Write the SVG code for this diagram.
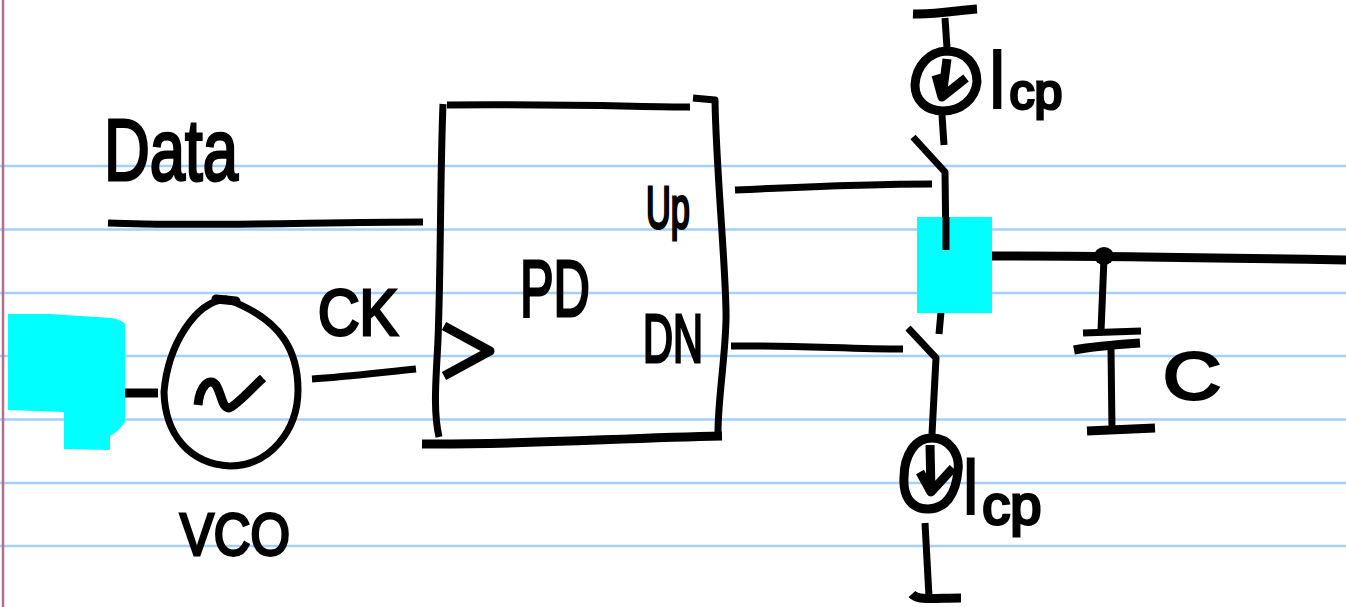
<svg xmlns="http://www.w3.org/2000/svg" width="1346" height="607" viewBox="0 0 1346 607">
<style>
.rule{stroke:#a6cffc;stroke-width:2.500;fill:none}
.ink{stroke:#000;stroke-width:7;fill:none;stroke-linecap:butt;stroke-linejoin:round}
.thick{stroke-width:9}
.fill{fill:#00ffff;stroke:none}
text{font-family:"Liberation Sans",Arial,sans-serif;fill:#000;stroke:#000;stroke-width:3}
.bar{stroke-width:0}
</style>
<rect width="1346" height="607" fill="#fff"/>
<g id="paper">
<path class="rule" d="M0 166H1346M0 229.500H1346M0 293H1346M0 356H1346M0 419.500H1346M0 483H1346M0 546H1346"/>
<path d="M3 0V607" stroke="#b56d8d" stroke-width="2.500" fill="none"/>
</g>
<g id="connectors">
<path class="ink" d="M108 223C200 227 320 222 423 222"/>
<path class="ink thick" d="M125 393H158"/>
<path class="ink" d="M312 379C345 377 385 372 416 369"/>
<path class="ink" d="M735 190C800 187 870 184 932 184"/>
<path class="ink" d="M731 346C790 345 850 349 903 349"/>
<path class="ink thick" d="M992 256C1100 256 1230 258 1346 260"/>
<path class="ink" d="M942 115L944 145"/>
<path class="ink" d="M913 137L945 172L946 250"/>
<path class="ink" d="M941 312L939 334"/>
<path class="ink" d="M908 328L936 358L932 434"/>
<path class="ink" d="M1104 258L1101 331"/>
<path class="ink" d="M1111 349L1112 430"/>
<ellipse cx="1104" cy="256" rx="10" ry="9" fill="#000"/>
</g>
<g id="node-data-label"><text x="104" y="180" font-size="88" textLength="134" lengthAdjust="spacingAndGlyphs">Data</text></g>
<g id="node-vco-block">
<path class="fill" d="M8 314L50 314L112 318Q122 320 125 324V422Q118 432 110 436V450L64 449V412L8 410Z"/>
</g>
<g id="node-vco">
<path class="ink" d="M226 299C195 302 168 345 164 392C165 435 190 464 230 466C270 466 298 430 298 390C298 355 285 320 226 299Z"/>
<path class="ink" style="stroke-width:9;stroke-linecap:round" d="M216 299L236 301"/>
<path class="ink thick" d="M198 405C200 385 210 377 216 385C222 395 222 408 229 408C236 406 250 390 263 378"/>
<text x="180" y="555" font-size="60" textLength="110" lengthAdjust="spacingAndGlyphs">VCO</text>
<text x="318" y="335" font-size="64" textLength="80" lengthAdjust="spacingAndGlyphs">CK</text>
</g>
<g id="node-pd">
<path class="ink" d="M447 105C580 104 640 107 690 107"/>
<path class="ink" d="M693 98L715 100C716 170 727 280 726 320C725 360 718 400 718 432"/>
<path class="ink" d="M443 104C440 180 441 260 438 340C436 380 433 410 439 437"/>
<path class="ink thick" d="M422 444C520 445 620 438 722 436"/>
<path class="ink thick" d="M444 326L490 351L444 376"/>
<text x="520" y="316" font-size="80" textLength="70" lengthAdjust="spacingAndGlyphs">PD</text>
<text x="646" y="228" font-size="60" textLength="44" lengthAdjust="spacingAndGlyphs">Up</text>
<text x="643" y="362" font-size="68" textLength="60" lengthAdjust="spacingAndGlyphs">DN</text>
</g>
<g id="node-top-source">
<path class="ink thick" d="M913 14C935 15 960 10 977 9"/>
<path class="ink" d="M945 18L947 48"/>
<path class="ink thick" d="M946 51C965 51 977 64 977 82C975 100 960 111 943 111C926 111 915 100 915 85C916 65 930 52 946 51Z"/>
<path class="ink thick" d="M947 59L942 97L936 75M942 97L966 78"/>
<text x="985" y="109" font-size="50"><tspan class="bar" font-size="88">I</tspan><tspan>cp</tspan></text>
</g>
<g id="node-bottom-source">
<path class="ink thick" d="M932 438C950 438 960 455 958 470C956 495 945 509 928 509C910 509 903 495 904 478C904 455 915 438 932 438Z"/>
<path class="ink thick" d="M930 445L931 492L920 472M931 492L953 468"/>
<path class="ink" d="M925 523L929 597"/>
<path class="ink thick" d="M912 594C918 601 935 598 961 598"/>
<text x="959" y="515" font-size="56"><tspan class="bar" font-size="84">I</tspan><tspan dy="9">cp</tspan></text>
</g>
<g id="node-switch-block">
<path class="fill" d="M917 217H992V313H917Z"/>
<path class="ink" d="M946 217L946 250"/>
</g>
<g id="node-capacitor">
<path class="ink thick" d="M1074 350C1090 347 1110 345 1140 343"/>
<path class="ink" d="M1083 333L1141 331"/>
<path class="ink thick" d="M1087 431L1155 428"/>
<text x="1163" y="399" font-size="66" textLength="58" lengthAdjust="spacingAndGlyphs">C</text>
</g>
</svg>
